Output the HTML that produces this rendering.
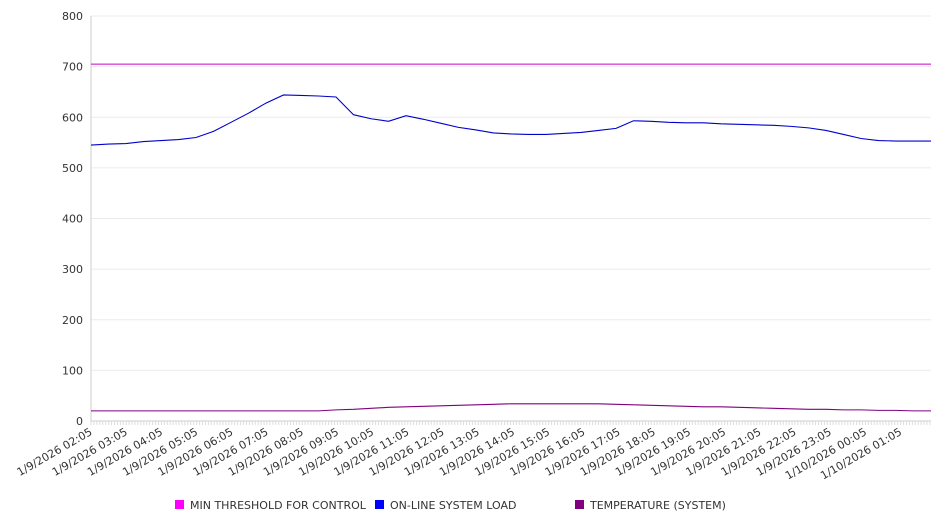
<!DOCTYPE html>
<html><head><meta charset="utf-8"><style>
body{margin:0;background:#fff;}
svg text{font-family:"DejaVu Sans","Liberation Sans",sans-serif;font-size:11px;fill:#333;}
</style></head><body>
<svg id="chart" width="946" height="526" xmlns="http://www.w3.org/2000/svg"></svg>
<script>
const yTicks=[0,100,200,300,400,500,600,700,800];
const xLabels=["1/9/2026 02:05","1/9/2026 03:05","1/9/2026 04:05","1/9/2026 05:05","1/9/2026 06:05","1/9/2026 07:05","1/9/2026 08:05","1/9/2026 09:05","1/9/2026 10:05","1/9/2026 11:05","1/9/2026 12:05","1/9/2026 13:05","1/9/2026 14:05","1/9/2026 15:05","1/9/2026 16:05","1/9/2026 17:05","1/9/2026 18:05","1/9/2026 19:05","1/9/2026 20:05","1/9/2026 21:05","1/9/2026 22:05","1/9/2026 23:05","1/10/2026 00:05","1/10/2026 01:05"];
const threshold=705;
const load=[545,547,548,552,554,556,560,572,590,608,628,644,643,642,640,605,597,592,603,596,588,580,575,569,567,566,566,568,570,574,578,593,592,590,589,589,587,586,585,584,582,579,574,566,558,554,553,553,553];
const temp=[20,20,20,20,20,20,20,20,20,20,20,20,20,20,22,23,25,27,28,29,30,31,32,33,34,34,34,34,34,34,33,32,31,30,29,28,28,27,26,25,24,23,23,22,22,21,21,20,20];
const svg=document.getElementById('chart');const NS='http://www.w3.org/2000/svg';
const X0=91,X1=931,Y0=421,Y1=16,ymax=800;
const yS=v=>Y0-(v/ymax)*(Y0-Y1);
const xS=i=>X0+i*(X1-X0)/(load.length-1);
const lx=i=>X0+2+i*35.2;
function mk(t,a,p){const e=document.createElementNS(NS,t);for(const k in a)e.setAttribute(k,a[k]);(p||svg).appendChild(e);return e;}
yTicks.forEach(v=>{
 const g=mk('line',{x1:X0,x2:X1,y1:yS(v),y2:yS(v),stroke:'#ebebeb'});
 
 
 const t=mk('text',{x:83,y:yS(v)+4,'text-anchor':'end'});t.textContent=v;
 
 
});
const ax=mk('line',{x1:X0,x2:X0,y1:Y1,y2:Y0,stroke:'#ccc'});


const bx=mk('line',{x1:X0,x2:X1,y1:Y0,y2:Y0,stroke:'#ccc'});


for(let x=X0;x<=X1;x+=35.2/12){const m=mk('line',{x1:x,x2:x,y1:Y0,y2:Y0+4,stroke:'#ddd'});
 
 }
xLabels.forEach((s,i)=>{
 const t=mk('text',{x:lx(i),y:Y0+13,'text-anchor':'end',transform:`rotate(-30 ${lx(i)} ${Y0+13})`});t.textContent=s;
 
 
});
const th=mk('line',{x1:X0,x2:X1,y1:yS(threshold),y2:yS(threshold),stroke:'#cc00cc','stroke-width':1});


const lp=mk('polyline',{points:load.map((v,i)=>xS(i)+','+yS(v)).join(' '),fill:'none',stroke:'#0000cc','stroke-width':1.1});


const tp=mk('polyline',{points:temp.map((v,i)=>xS(i)+','+yS(v)).join(' '),fill:'none',stroke:'#800080','stroke-width':1.1});


const leg=[["MIN THRESHOLD FOR CONTROL","#ff00ff",175],["ON-LINE SYSTEM LOAD","#0000ff",375],["TEMPERATURE (SYSTEM)","#800080",575]];
leg.forEach(l=>{
 const g=mk('g',{});
 
 
 mk('rect',{x:l[2],y:500,width:9,height:9,fill:l[1]},g);
 const t=mk('text',{x:l[2]+15,y:509},g);t.textContent=l[0];
});
</script>
</body></html>
